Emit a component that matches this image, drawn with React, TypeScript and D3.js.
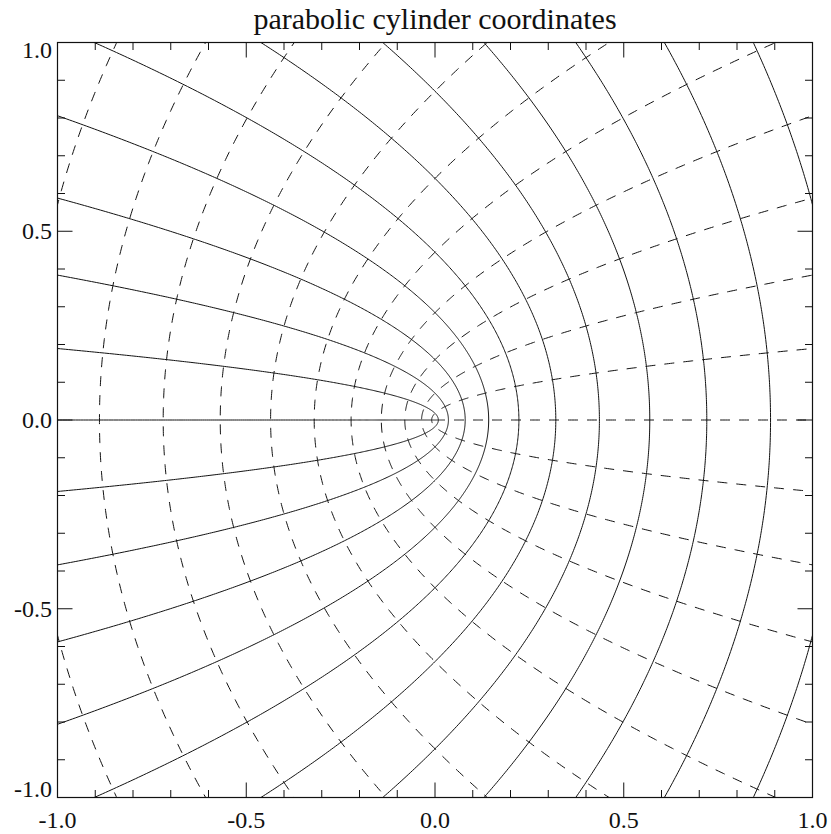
import React from "react";
import * as d3 from "d3";

// parameter values of the coordinate lines (step 2/15)
const tauValues = [0, 0.1333, 0.2667, 0.4, 0.5333, 0.6667, 0.8, 0.9333, 1.0667, 1.2, 1.3333, 1.4667];
const sigmaValues = [0, 0.1333, 0.2667, 0.4, 0.5333, 0.6667, 0.8, 0.9333, 1.0667, 1.2, 1.3333, 1.4667];
const majorTicks = [-1.0, -0.5, 0.0, 0.5, 1.0];
const minorTicks = [-0.9, -0.8, -0.7, -0.6, -0.4, -0.3, -0.2, -0.1, 0.1, 0.2, 0.3, 0.4, 0.6, 0.7, 0.8, 0.9];
const title = "parabolic cylinder coordinates";

const W = 831;
const H = 834;
const left = 57.5, right = 812.5, top = 42.5, bottom = 797.5;
const majorLen = 15;
const minorLen = 7.5;
const font = "'Liberation Serif', 'Times New Roman', serif";

export default function App() {
    const x = d3.scaleLinear().domain([-1, 1]).range([left, right]);
    const y = d3.scaleLinear().domain([-1, 1]).range([bottom, top]);

    // parameter along each curve (degenerate lines only need one half)
    const params = d3.range(-3, 3.0001, 0.005);
    const halfParams = d3.range(0, 3.0001, 0.005);

    const line = d3.line<[number, number]>()
        .x(d => x(d[0]))
        .y(d => y(d[1]));

    // constant tau: x = (tau^2 - s^2)/2, y = s*tau
    const tauPaths = tauValues.map(tau =>
        line((tau === 0 ? halfParams : params).map(s => [(tau * tau - s * s) / 2, s * tau] as [number, number])) || "");
    // constant sigma: x = (t^2 - sigma^2)/2, y = sigma*t
    const sigmaPaths = sigmaValues.map(sig =>
        line((sig === 0 ? halfParams : params).map(t => [(t * t - sig * sig) / 2, sig * t] as [number, number])) || "");

    const yLabelBaseline = (v: number) => {
        if (v === 1) return y(v) + 15;
        if (v === -1) return y(v) - 0.5;
        return y(v) + 8;
    };

    return (
        <svg width={W} height={H} style={{ position: "absolute", left: 0, top: 0, background: "#fff" }}>
            <defs>
                <clipPath id="plot-clip">
                    <rect x={left} y={top} width={right - left} height={bottom - top} />
                </clipPath>
            </defs>

            <text x={(left + right) / 2} y={29} textAnchor="middle" fontFamily={font} fontSize={30} fill="#111">
                {title}
            </text>

            <g clipPath="url(#plot-clip)" fill="none" stroke="#111" strokeWidth={1}>
                {tauPaths.map((d, i) => <path key={"t" + i} d={d} />)}
                {sigmaPaths.map((d, i) => <path key={"s" + i} d={d} strokeDasharray="10,9" />)}
            </g>

            {/* frame */}
            <rect x={left} y={top} width={right - left} height={bottom - top} fill="none" stroke="#111" strokeWidth={1.2} />

            {/* ticks on all four sides */}
            <g stroke="#111" strokeWidth={1}>
                {majorTicks.concat(minorTicks).map((v, i) => {
                    const len = majorTicks.includes(v) ? majorLen : minorLen;
                    return (
                        <g key={"tk" + i}>
                            <line x1={x(v)} x2={x(v)} y1={bottom} y2={bottom - len} />
                            <line x1={x(v)} x2={x(v)} y1={top} y2={top + len} />
                            <line x1={left} x2={left + len} y1={y(v)} y2={y(v)} />
                            <line x1={right} x2={right - len} y1={y(v)} y2={y(v)} />
                        </g>
                    );
                })}
            </g>

            <g fontFamily={font} fontSize={24} fill="#111">
                {majorTicks.map(v => (
                    <text key={"xl" + v} x={x(v)} y={828} textAnchor="middle">{v.toFixed(1)}</text>
                ))}
                {majorTicks.map(v => (
                    <text key={"yl" + v} x={52} y={yLabelBaseline(v)} textAnchor="end">{v.toFixed(1)}</text>
                ))}
            </g>
        </svg>
    );
}
